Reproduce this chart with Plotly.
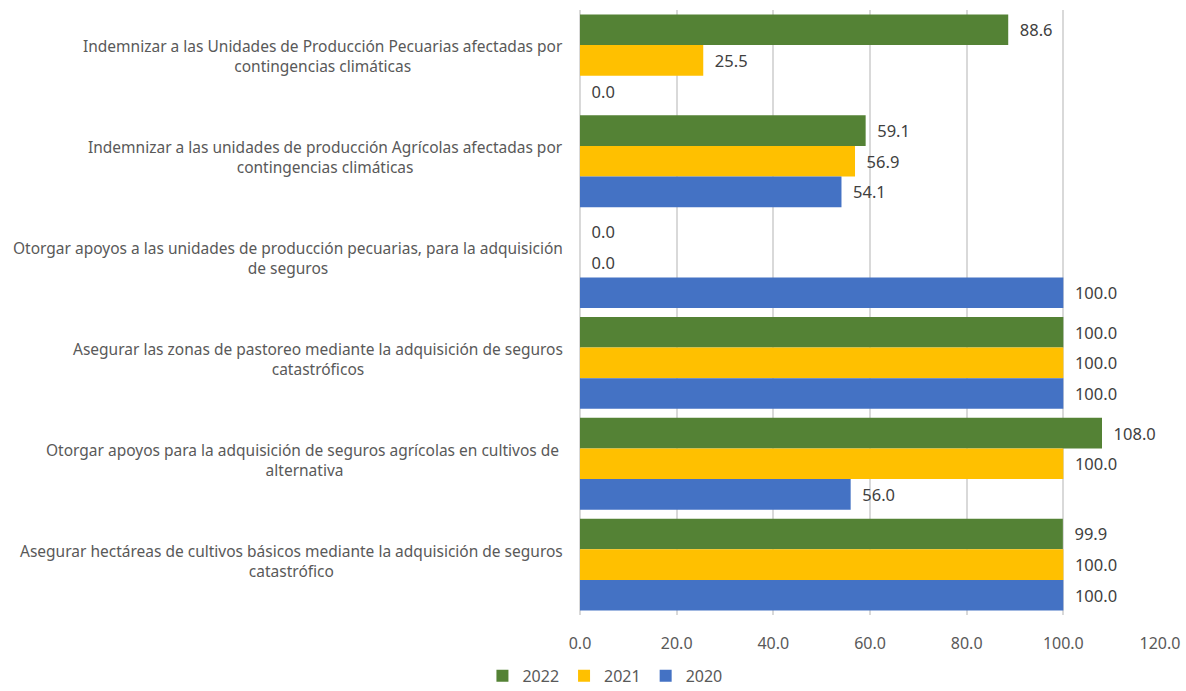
import plotly.graph_objects as go

categories = [
    "Indemnizar a las Unidades de Producción Pecuarias afectadas por<br>contingencias climáticas",
    "Indemnizar a las unidades de producción Agrícolas afectadas por<br>contingencias climáticas",
    "Otorgar apoyos a las unidades de producción pecuarias, para la adquisición<br>de seguros",
    "Asegurar las zonas de pastoreo mediante la adquisición de seguros<br>catastróficos",
    "Otorgar apoyos para la adquisición de seguros agrícolas en cultivos de <br>alternativa",
    "Asegurar hectáreas de cultivos básicos mediante la adquisición de seguros<br>catastrófico",
]
keys = ["c1", "c2", "c3", "c4", "c5", "c6"]
series_names = ["2022", "2021", "2020"]
values_2022 = [88.6, 59.1, 0.0, 100.0, 108.0, 99.9]
values_2021 = [25.5, 56.9, 0.0, 100.0, 100.0, 100.0]
values_2020 = [0.0, 54.1, 100.0, 100.0, 56.0, 100.0]
colors = ["#548235", "#FFC000", "#4472C4"]
x_ticks = [0, 20, 40, 60, 80, 100, 120]

fig = go.Figure()
for name, vals, col in zip(series_names, [values_2022, values_2021, values_2020], colors):
    fig.add_trace(go.Bar(
        y=keys, x=vals, name=name, orientation="h",
        marker=dict(color=col, line=dict(width=0)),
        text=["\u00a0\u00a0" + f"{v:.1f}" for v in vals], textposition="outside",
        textfont=dict(family="Noto Sans", size=16.5, color="#404040"),
        cliponaxis=False,
    ))

for k, lab in zip(keys, categories):
    fig.add_annotation(
        x=-0.026, xref="paper", y=k, yref="y", text=lab, showarrow=False,
        xanchor="right", yanchor="middle", align="center", yshift=4,
        font=dict(family="Noto Sans", size=15.5, color="#595959"),
    )

fig.update_layout(
    width=1186, height=691,
    margin=dict(l=580, r=26, t=10, b=76),
    barmode="group", bargap=0.09, bargroupgap=0,
    plot_bgcolor="white", paper_bgcolor="white",
    font=dict(family="Noto Sans", size=15, color="#595959"),
    xaxis=dict(range=[0, 120], tickvals=x_ticks, ticktext=[f"{t:.1f}" for t in x_ticks],
               showgrid=True, gridcolor="#d9d9d9", gridwidth=1.5, zeroline=True,
               zerolinecolor="#d9d9d9", zerolinewidth=1.5, showline=False,
               tickfont=dict(size=16, color="#595959"), ticks="outside", ticklen=14,
               tickcolor="rgba(0,0,0,0)", automargin=False),
    yaxis=dict(autorange="reversed", showticklabels=False, showgrid=False, showline=False,
               ticks="", automargin=False),
    legend=dict(orientation="h", x=0.043, xanchor="center", xref="paper",
                y=0.022, yanchor="middle", yref="container",
                font=dict(size=16, color="#595959"), traceorder="normal", itemwidth=30),
)
fig.write_html("out.html", config={"displayModeBar": False},
               post_script="document.body.style.margin='0px';document.body.style.overflow='hidden';")
